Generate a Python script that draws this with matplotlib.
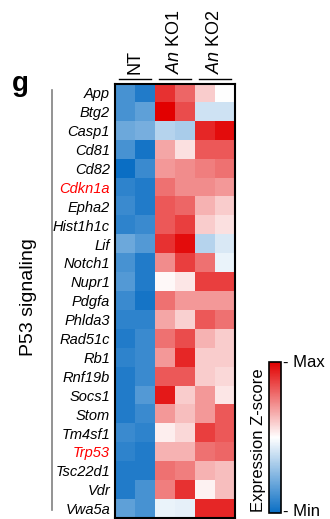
import matplotlib
matplotlib.use("agg")
from matplotlib import pyplot as plt
from matplotlib.colors import LinearSegmentedColormap
from matplotlib.transforms import blended_transform_factory
import numpy as np

plt.rcParams["font.family"] = ["Liberation Sans", "DejaVu Sans"]
plt.rcParams["mathtext.fontset"] = "custom"
plt.rcParams["mathtext.it"] = "Liberation Sans:italic"
plt.rcParams["mathtext.rm"] = "Liberation Sans"

# gene list (rows) and sample columns
genes = ["App", "Btg2", "Casp1", "Cd81", "Cd82", "Cdkn1a", "Epha2", "Hist1h1c",
         "Lif", "Notch1", "Nupr1", "Pdgfa", "Phlda3", "Rad51c", "Rb1", "Rnf19b",
         "Socs1", "Stom", "Tm4sf1", "Trp53", "Tsc22d1", "Vdr", "Vwa5a"]
highlight = ["Cdkn1a", "Trp53"]
groups = ["NT", "$\\it{An}$ KO1", "$\\it{An}$ KO2"]

# z-score per sample (-1 = min, 1 = max)
nt_1 = [-0.75, -0.75, -0.6, -0.75, -1.0, -0.85, -0.8, -0.85, -0.6, -0.75, -0.7, -0.8,
        -0.85, -0.9, -0.85, -0.9, -0.9, -0.9, -0.8, -0.85, -0.9, -0.9, -0.65]
nt_2 = [-0.9, -0.65, -0.55, -0.95, -0.8, -0.9, -0.9, -0.8, -0.7, -0.9, -0.9, -0.95,
        -0.85, -0.8, -0.8, -0.8, -0.7, -0.8, -0.85, -0.9, -0.9, -0.75, -0.75]
ko1_1 = [0.8, 1.0, -0.3, 0.35, 0.4, 0.55, 0.65, 0.65, 0.8, 0.45, 0.03, 0.55,
         0.35, 0.55, 0.4, 0.65, 0.9, 0.4, 0.07, 0.3, 0.55, 0.5, -0.08]
ko1_2 = [0.6, 0.7, -0.35, 0.12, 0.45, 0.45, 0.6, 0.75, 0.95, 0.75, 0.1, 0.4,
         0.18, 0.7, 0.85, 0.65, 0.2, 0.25, 0.15, 0.3, 0.5, 0.8, -0.1]
ko2_1 = [0.2, -0.2, 0.85, 0.65, 0.5, 0.45, 0.3, 0.2, -0.3, 0.55, 0.75, 0.4,
         0.65, 0.3, 0.2, 0.2, 0.4, 0.4, 0.75, 0.55, 0.3, 0.05, 0.85]
ko2_2 = [0.0, -0.2, 0.95, 0.65, 0.55, 0.4, 0.2, 0.12, -0.15, -0.08, 0.75, 0.4,
         0.55, 0.2, 0.2, 0.15, 0.1, 0.65, 0.65, 0.6, 0.25, 0.25, 0.85]

data = np.array([nt_1, nt_2, ko1_1, ko1_2, ko2_1, ko2_2]).T

cmap = LinearSegmentedColormap.from_list("bwr_custom", ["#0a6ec4", "#ffffff", "#e20000"])

fig = plt.figure(figsize=(3.30, 5.19), dpi=100)
ax = fig.add_axes([0.3485, 0.0019, 0.3636, 0.8372])
im = ax.imshow(data, aspect="auto", cmap=cmap, vmin=-1, vmax=1, interpolation="nearest")

ax.set_xticks([])
ax.set_yticks(range(len(genes)))
ax.set_yticklabels(genes, fontsize=10.5, style="italic")
ax.tick_params(axis="y", length=0, pad=3.6)
for lbl in ax.get_yticklabels():
    if lbl.get_text() in highlight:
        lbl.set_color("#ff0000")
for sp in ax.spines.values():
    sp.set_linewidth(1.5)

# group labels with underlines above the columns
trans = blended_transform_factory(ax.transData, ax.transAxes)
for i, g in enumerate(groups):
    ax.plot([2 * i - 0.5 + 0.2, 2 * i + 1.5 - 0.2], [1.0095, 1.0095], color="black",
            lw=1.0, transform=trans, clip_on=False)
    ax.text(2 * i + 0.5, 1.023, g, transform=trans, rotation=90, ha="center", va="bottom",
            fontsize=13)

# panel letter, pathway name and bracket line
fig.text(0.036, 0.8247, "g", fontsize=20, fontweight="bold", va="baseline", ha="left")
fig.text(0.085, 0.4277, "P53 signaling", rotation=90, fontsize=14, ha="center", va="center")
fig.add_artist(plt.Line2D([0.1576, 0.1576], [0.8266, 0.0173], color="#808080", lw=1.2))

# colour bar
cax = fig.add_axes([0.8152, 0.01156, 0.0364, 0.2909])
cb = fig.colorbar(im, cax=cax)
cb.set_ticks([])
cb.outline.set_linewidth(1.2)
fig.text(0.782, 0.152, "Expression Z-score", rotation=90, fontsize=12, ha="center", va="center")
fig.text(0.858, 0.3025, "- Max", fontsize=12, ha="left", va="center")
fig.text(0.858, 0.0135, "- Min", fontsize=12, ha="left", va="center")

fig.savefig("out.png", dpi=100)
